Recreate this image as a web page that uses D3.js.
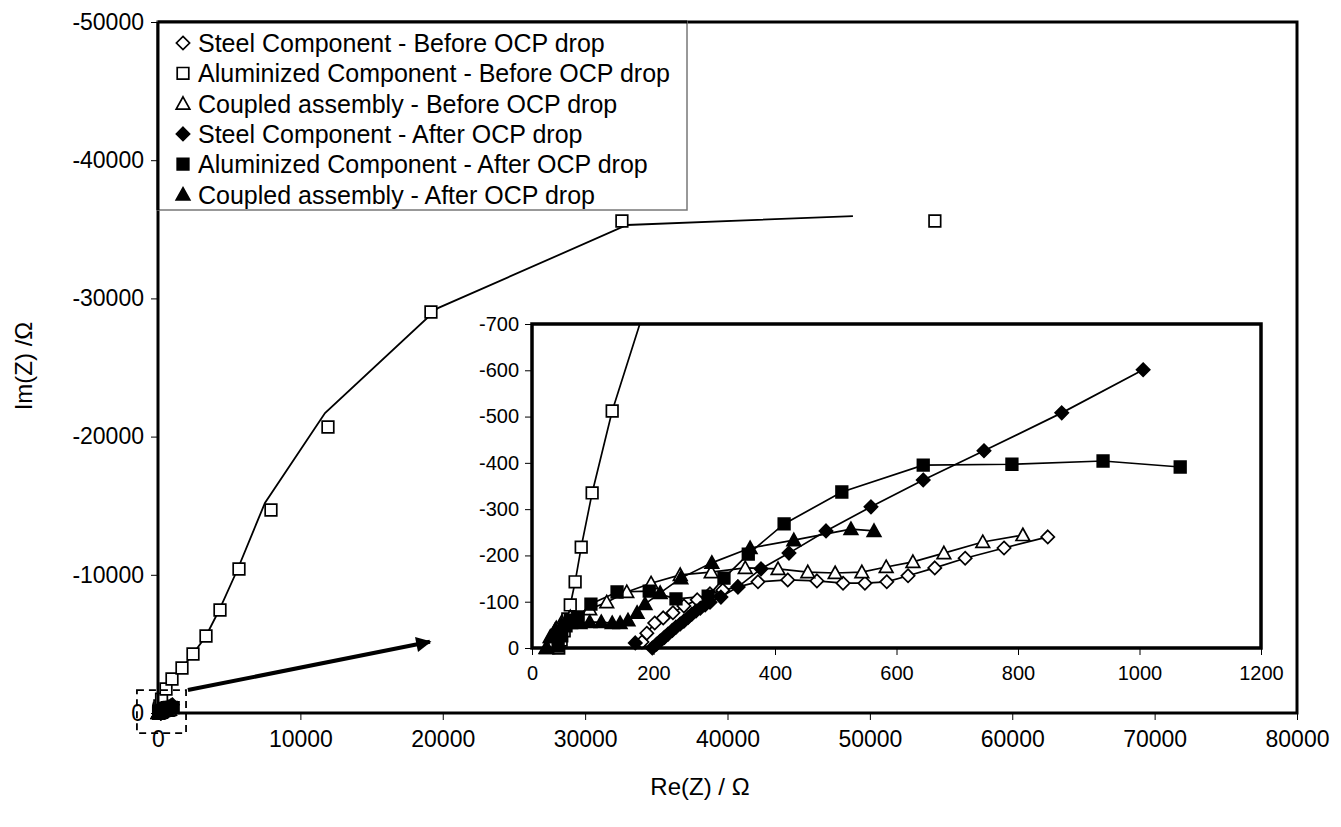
<!DOCTYPE html>
<html>
<head>
<meta charset="utf-8">
<script src="https://cdn.jsdelivr.net/npm/d3@7"></script>
<style>
  body { margin: 0; background: #fff; }
  text { font-family: "Liberation Sans", Arial, sans-serif; fill: #000; }
</style>
</head>
<body>
<svg id="chart" width="1341" height="827"></svg>
<script>
// legend labels, in drawing order
var seriesNames = [
  "Steel Component - Before OCP drop",
  "Aluminized Component - Before OCP drop",
  "Coupled assembly - Before OCP drop",
  "Steel Component - After OCP drop",
  "Aluminized Component - After OCP drop",
  "Coupled assembly - After OCP drop"
];
var seriesShapes = ["diamond", "square", "triangle", "diamond", "square", "triangle"];
var seriesFilled = [false, false, false, true, true, true];

// [Re(Z), Im(Z)] in ohm
var steelBefore = [[181,-13],[189,-32],[202,-54],[216,-65],[232,-76],[250,-91],[272,-104],[293,-117],
  [314,-125],[339,-132],[372,-143],[421,-147],[469,-145],[512,-140],[548,-140],[584,-143],[619,-156],
  [663,-173],[713,-194],[777,-216],[849,-240]];
var aluBefore = [[44,0],[48,-17],[53,-37],[59,-63],[63,-93],[71,-143],[81,-218],[99,-335],[132,-512],
  [250,-1000],[562,-1737],[983,-2460],[1685,-3256],[2458,-4269],[3371,-5572],[4354,-7453],[5688,-10420],
  [7935,-14689],[11938,-20695],[19171,-29016],[32584,-35600],[54565,-35600]];
var coupledBefore = [[25,0],[31,-24],[40,-43],[49,-56],[63,-67],[95,-84],[123,-99],[156,-121],[196,-140],
  [244,-158],[295,-164],[351,-173],[405,-171],[454,-164],[499,-162],[543,-164],[583,-175],[627,-186],
  [678,-205],[742,-229],[808,-244]];
var steelAfter = [[170,-11],[198,0],[205,-8],[211,-15],[218,-23],[224,-30],[231,-38],[237,-45],[244,-52],
  [250,-58],[257,-66],[263,-73],[270,-80],[277,-86],[285,-93],[293,-99],[311,-110],[339,-132],[377,-171],
  [423,-205],[484,-253],[558,-305],[644,-363],[744,-426],[872,-508],[1006,-601]];
var aluAfter = [[43,-4],[49,-26],[56,-48],[63,-60],[76,-67],[97,-95],[140,-121],[193,-123],[237,-106],
  [290,-112],[316,-151],[356,-203],[415,-268],[510,-337],[644,-395],[790,-397],[940,-404],[1067,-391]];
var coupledAfter = [[23,0],[30,-24],[38,-39],[49,-50],[63,-54],[79,-54],[95,-56],[114,-56],[132,-54],
  [145,-54],[158,-60],[173,-76],[186,-95],[211,-119],[245,-151],[296,-184],[359,-216],[431,-233],
  [525,-257],[563,-253]];

// line drawn over the aluminized (before) points in the large plot
var aluBeforeFit = [[0,0],[562,-1737],[983,-2460],[1685,-3256],[2458,-4269],[3371,-5572],[4300,-7453],
  [5600,-10420],[7510,-15200],[11730,-21710],[19660,-29300],[32940,-35310],[48810,-35960]];

var allSeries = [steelBefore, aluBefore, coupledBefore, steelAfter, aluAfter, coupledAfter];

// tick labels
var mainXTicks = [0, 10000, 20000, 30000, 40000, 50000, 60000, 70000, 80000];
var mainYTicks = [-50000, -40000, -30000, -20000, -10000, 0];
var insetXTicks = [0, 200, 400, 600, 800, 1000, 1200];
var insetYTicks = [-700, -600, -500, -400, -300, -200, -100, 0];

// zoomed area and arrow, in main-plot units
var zoomBox = { x0: -1480, x1: 1970, y0: -1660, y1: 1450 };
var arrowFrom = [2100, -1660], arrowTo = [19100, -5150];

var svg = d3.select("#chart");

// marker shapes, Excel style
function markerPath(shape, r) {
  if (shape == "diamond") return "M0," + (-r) + "L" + r + ",0L0," + r + "L" + (-r) + ",0Z";
  if (shape == "square") return "M" + (-r) + "," + (-r) + "h" + (2 * r) + "v" + (2 * r) + "h" + (-2 * r) + "Z";
  return "M0," + (-r) + "L" + r + "," + (r * 0.8) + "L" + (-r) + "," + (r * 0.8) + "Z";
}
var markerSize = { diamond: 6.6, square: 5.8, triangle: 6.8 };

function drawMarkers(g, data, i, x, y) {
  g.selectAll(null)
    .data(data)
    .enter()
    .append("path")
    .attr("d", markerPath(seriesShapes[i], markerSize[seriesShapes[i]]))
    .attr("transform", function(d) { return "translate(" + x(d[0]) + "," + y(d[1]) + ")"; })
    .attr("fill", seriesFilled[i] ? "#000" : "#fff")
    .attr("stroke", "#000")
    .attr("stroke-width", 1.7);
}

// ---------- main plot ----------
var x = d3.scaleLinear().domain([0, 80000]).range([158, 1297]);
var y = d3.scaleLinear().domain([0, -50000]).range([713, 22]);

var mainG = svg.append("g");

mainG.append("g")
  .attr("transform", "translate(0,713)")
  .call(d3.axisBottom(x).tickValues(mainXTicks).tickSize(7).tickSizeOuter(0).tickFormat(function(d) { return String(d); }))
  .call(function(g) { g.select(".domain").remove(); })
  .call(function(g) { g.selectAll("text").attr("font-size", 23).attr("dy", "1.05em").style("font-family", "Liberation Sans, Arial"); });

mainG.append("g")
  .attr("transform", "translate(158,0)")
  .call(d3.axisLeft(y).tickValues(mainYTicks).tickSize(7).tickSizeOuter(0).tickFormat(function(d) { return String(d); }))
  .call(function(g) { g.select(".domain").remove(); })
  .call(function(g) { g.selectAll("text").attr("font-size", 23).attr("x", -14).style("font-family", "Liberation Sans, Arial"); });

var line = d3.line().x(function(d) { return x(d[0]); }).y(function(d) { return y(d[1]); });

allSeries.forEach(function(s, i) {
  if (i == 1) return;
  mainG.append("path").attr("d", line(s)).attr("fill", "none").attr("stroke", "#000").attr("stroke-width", 1.5);
});
mainG.append("path").attr("d", line(aluBeforeFit)).attr("fill", "none").attr("stroke", "#000").attr("stroke-width", 1.8);
allSeries.forEach(function(s, i) { drawMarkers(mainG, s, i, x, y); });

// frame
mainG.append("rect")
  .attr("x", 158).attr("y", 22).attr("width", 1297 - 158).attr("height", 713 - 22)
  .attr("fill", "none").attr("stroke", "#000").attr("stroke-width", 3);

// dashed box round the origin
mainG.append("rect")
  .attr("x", x(zoomBox.x0)).attr("y", y(zoomBox.y0))
  .attr("width", x(zoomBox.x1) - x(zoomBox.x0)).attr("height", y(zoomBox.y1) - y(zoomBox.y0))
  .attr("fill", "none").attr("stroke", "#000").attr("stroke-width", 1.8).attr("stroke-dasharray", "7,5");

// arrow to the inset
svg.append("defs").append("marker")
  .attr("id", "head").attr("viewBox", "0 0 10 10").attr("refX", 9).attr("refY", 5)
  .attr("markerWidth", 4.5).attr("markerHeight", 3.8).attr("orient", "auto")
  .append("path").attr("d", "M0,0L10,5L0,10Z").attr("fill", "#000");
mainG.append("line")
  .attr("x1", x(arrowFrom[0])).attr("y1", y(arrowFrom[1]))
  .attr("x2", x(arrowTo[0])).attr("y2", y(arrowTo[1]))
  .attr("stroke", "#000").attr("stroke-width", 4).attr("marker-end", "url(#head)");

// axis titles
svg.append("text").attr("x", 700).attr("y", 795).attr("text-anchor", "middle").attr("font-size", 24).text("Re(Z) / Ω");
svg.append("text").attr("transform", "translate(32,366) rotate(-90)").attr("text-anchor", "middle").attr("font-size", 24).text("Im(Z) /Ω");

// legend
var legend = svg.append("g");
legend.append("rect").attr("x", 158).attr("y", 22).attr("width", 529).attr("height", 188)
  .attr("fill", "#fff").attr("stroke", "#777").attr("stroke-width", 1.5);
legend.append("line").attr("x1", 158).attr("y1", 22).attr("x2", 687).attr("y2", 22).attr("stroke", "#000").attr("stroke-width", 3);
legend.append("line").attr("x1", 158).attr("y1", 22).attr("x2", 158).attr("y2", 210).attr("stroke", "#000").attr("stroke-width", 3);
seriesNames.forEach(function(name, i) {
  var ly = 43 + i * 30.3;
  legend.append("path")
    .attr("d", markerPath(seriesShapes[i], markerSize[seriesShapes[i]]))
    .attr("transform", "translate(183," + ly + ")")
    .attr("fill", seriesFilled[i] ? "#000" : "#fff").attr("stroke", "#000").attr("stroke-width", 1.7);
  legend.append("text").attr("x", 198).attr("y", ly).attr("dy", "0.36em").attr("font-size", 25).text(name);
});

// ---------- inset ----------
var ix = d3.scaleLinear().domain([0, 1200]).range([532, 1261]);
var iy = d3.scaleLinear().domain([0, -700]).range([648, 324]);
var insetG = svg.append("g");

insetG.append("rect").attr("x", 532).attr("y", 324).attr("width", 1261 - 532).attr("height", 648 - 324).attr("fill", "#fff");

insetG.append("g")
  .attr("transform", "translate(0,648)")
  .call(d3.axisBottom(ix).tickValues(insetXTicks).tickSize(7).tickSizeOuter(0).tickFormat(function(d) { return String(d); }))
  .call(function(g) { g.select(".domain").remove(); })
  .call(function(g) { g.selectAll("text").attr("font-size", 20).attr("dy", "1.1em").style("font-family", "Liberation Sans, Arial"); });

insetG.append("g")
  .attr("transform", "translate(532,0)")
  .call(d3.axisLeft(iy).tickValues(insetYTicks).tickSize(7).tickSizeOuter(0).tickFormat(function(d) { return String(d); }))
  .call(function(g) { g.select(".domain").remove(); })
  .call(function(g) { g.selectAll("text").attr("font-size", 20).attr("x", -13).style("font-family", "Liberation Sans, Arial"); });

svg.append("clipPath").attr("id", "insetClip")
  .append("rect").attr("x", 532).attr("y", 324).attr("width", 1261 - 532).attr("height", 648 - 324);

var iline = d3.line().x(function(d) { return ix(d[0]); }).y(function(d) { return iy(d[1]); });
var insetLines = insetG.append("g").attr("clip-path", "url(#insetClip)");
allSeries.forEach(function(s) {
  insetLines.append("path").attr("d", iline(s)).attr("fill", "none").attr("stroke", "#000").attr("stroke-width", 1.7);
});
allSeries.forEach(function(s, i) {
  var inside = s.filter(function(d) { return d[0] <= 1200 && d[1] >= -700; });
  drawMarkers(insetG, inside, i, ix, iy);
});

insetG.append("rect").attr("x", 532).attr("y", 324).attr("width", 1261 - 532).attr("height", 648 - 324)
  .attr("fill", "none").attr("stroke", "#000").attr("stroke-width", 3.5);
</script>
</body>
</html>
